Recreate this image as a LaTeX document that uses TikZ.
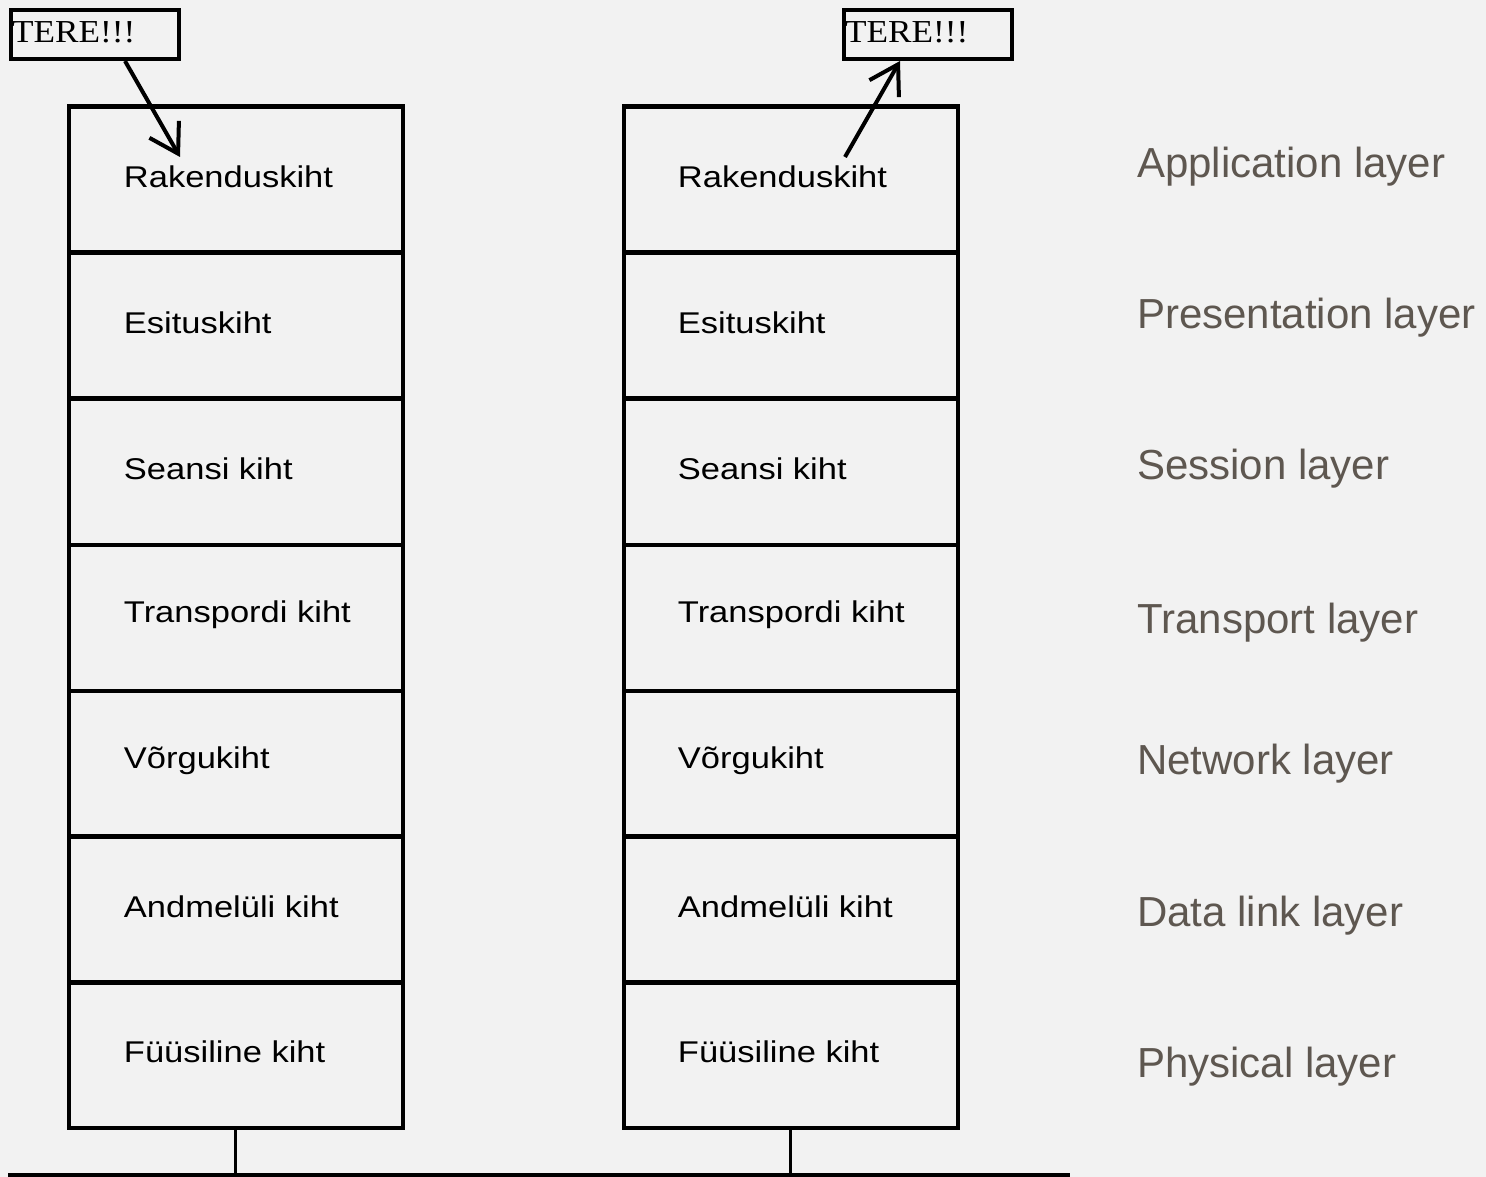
\documentclass[tikz,border=0pt]{standalone}
\usepackage{fontspec}
\usetikzlibrary{arrows.meta,calc}
\newfontfamily\boxfont[FakeStretch=1.15]{Liberation Sans}
\newfontfamily\terefont[FakeStretch=1.1]{Liberation Serif}
\newfontfamily\sidefont{Liberation Sans}
\definecolor{bgc}{HTML}{F2F2F2}
\definecolor{sidec}{HTML}{5E5750}
\begin{document}
\begin{tikzpicture}[x=1pt,y=-1pt,
  layerbox/.style={draw=black, line width=4.5pt, minimum width=334pt, minimum height=146pt, inner sep=0pt},
  layertext/.style={anchor=west, inner sep=0pt, font=\boxfont\fontsize{30}{36}\selectfont},
  sidetext/.style={anchor=west, inner sep=0pt, text=sidec, font=\sidefont\fontsize{42}{50}\selectfont},
  terebox/.style={draw=black, line width=4pt, minimum width=168pt, minimum height=49pt, inner sep=0pt},
  teretext/.style={anchor=west, inner sep=0pt, font=\terefont\fontsize{32}{38}\selectfont},
  arr/.style={line width=4pt, -{Straight Barb[length=28pt,width=34pt,line width=4pt]}},
  thinline/.style={line width=3pt},
  busline/.style={line width=4.5pt}]
\fill[bgc] (0,0) rectangle (1486,1177);
\useasboundingbox (0,0) rectangle (1486,1177);
% layer stacks
\foreach \i/\name/\y in {1/Rakenduskiht/179.5, 2/Esituskiht/325.5, 3/Seansi kiht/472, 4/Transpordi kiht/618, 5/Võrgukiht/764, 6/Andmelüli kiht/909.5, 7/Füüsiline kiht/1055}{
  \node[layerbox] (L\i) at (236,\y) {};
  \node[layertext] (LT\i) at ($(L\i.west)+(57,-3)$) {\name};
  \node[layerbox] (R\i) at (791,\y) {};
  \node[layertext] (RT\i) at ($(R\i.west)+(56,-3)$) {\name};
}
% side labels
\node[sidetext] (S1) at (1137,167) {Application layer};
\node[sidetext] (S2) at (1137,318) {Presentation layer};
\node[sidetext] (S3) at (1137,469) {Session layer};
\node[sidetext] (S4) at (1137,623) {Transport layer};
\node[sidetext] (S5) at (1137,764) {Network layer};
\node[sidetext] (S6) at (1137,916) {Data link layer};
\node[sidetext] (S7) at (1137,1067) {Physical layer};
% TERE boxes
\node[terebox] (tereL) at (95,34.5) {};
\node[teretext] (tereLt) at ($(tereL.west)+(3,-2)$) {TERE!!!};
\node[terebox] (tereR) at (928,34.5) {};
\node[teretext] (tereRt) at ($(tereR.west)+(3,-2)$) {TERE!!!};
% arrows
\coordinate (aL) at (180,157);
\coordinate (aR) at (845,157);
\draw[arr] ([xshift=30pt]tereL.south) -- (aL);
\draw[arr] (aR) -- ([xshift=-28pt]tereR.south);
% bus
\coordinate (busL) at (8,1175);
\coordinate (busR) at (1070,1175);
\draw[thinline] ([xshift=-1pt]L7.south) -- ([xshift=-1pt]L7.south |- busL);
\draw[thinline] ([xshift=-1pt]R7.south) -- ([xshift=-1pt]R7.south |- busL);
\draw[busline] (busL) -- (busR);
\end{tikzpicture}
\end{document}
